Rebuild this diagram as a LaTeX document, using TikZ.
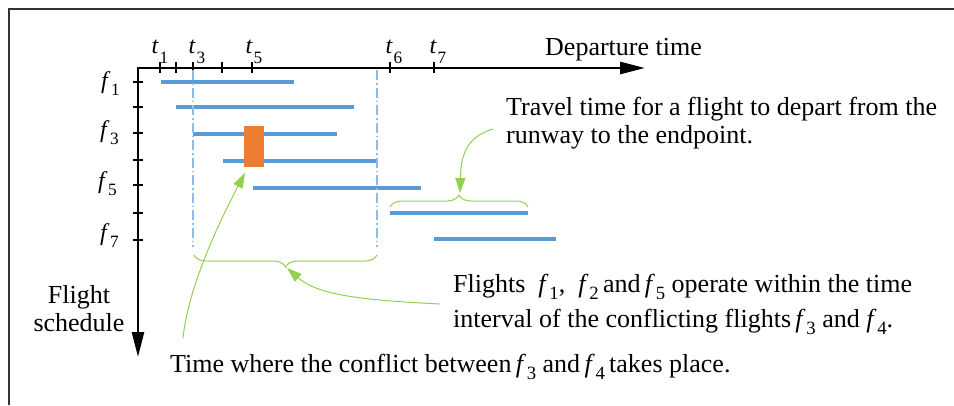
\documentclass[tikz,border=0pt]{standalone}
\usepackage{fontspec}
\setmainfont{Liberation Serif}
\usepackage{graphicx}
\usetikzlibrary{arrows.meta,decorations.pathreplacing}
\definecolor{barblue}{HTML}{5B9BD5}
\definecolor{dashblue}{HTML}{8FBCE6}
\definecolor{conforange}{HTML}{ED7D31}
\definecolor{annogreen}{HTML}{92D050}
\definecolor{framegray}{HTML}{333333}
\newcommand{\ix}[3][0.28em]{\textit{#2}\kern0.03em\raisebox{-#1}{\scalebox{0.72}{#3}}}
\begin{document}
\begin{tikzpicture}[x=1pt,y=-1pt,
  big/.style={font=\fontsize{26}{28}\selectfont, inner sep=0pt},
  tlab/.style={font=\fontsize{24}{26}\selectfont, inner sep=0pt, anchor=base},
  flab/.style={font=\fontsize{24}{26}\selectfont, inner sep=0pt, anchor=base east},
  axisline/.style={line width=2.6pt, {Triangle[length=25pt,width=12pt]}-{Triangle[length=25pt,width=12pt]}},
  tickmark/.style={line width=1.2pt},
  bar/.style={barblue, line width=4pt},
  guide/.style={dashblue, line width=1.3pt, dash pattern=on 10pt off 3pt on 1.5pt off 3pt},
  anno/.style={annogreen, line width=1pt},
  annoarrow/.style={anno, -{Triangle[length=15pt,width=10pt]}},
  bracestyle/.style={anno, decorate, decoration={brace, amplitude=12pt}}
]
\useasboundingbox (0,0) rectangle (954,405);
% frame
\draw[framegray, line width=1.3pt] (9,405) -- (9,9) -- (954,9);

% axes
\coordinate (O) at (138,68);
\coordinate (xend) at (645,68);
\coordinate (yend) at (138,357);
\draw[axisline] (yend) -- (O) -- (xend);

% ticks on time axis
\foreach \tx in {160,176,193,222,252,390,434}
  \draw[tickmark] (\tx,62) -- (\tx,73);
% ticks on flight axis
\foreach \ty in {82,107,133,160,185,213,240}
  \draw[tickmark] (133,\ty) -- (143,\ty);

% time labels
\node[tlab] (t1) at (160,53) {\ix[0.42em]{t}{1}};
\node[tlab] (t3) at (197,53) {\ix[0.42em]{t}{3}};
\node[tlab] (t5) at (254,53) {\ix[0.42em]{t}{5}};
\node[tlab] (t6) at (394,53) {\ix[0.42em]{t}{6}};
\node[tlab] (t7) at (438,53) {\ix[0.42em]{t}{7}};
\node[big, anchor=base west] (dep) at (545,55) {Departure time};

% flight labels
\node[flab] (f1) at (120,88) {\ix[0.33em]{f}{1}};
\node[flab] (f3) at (119,137) {\ix[0.33em]{f}{3}};
\node[flab] (f5) at (117,188) {\ix[0.33em]{f}{5}};
\node[flab] (f7) at (119,240) {\ix[0.33em]{f}{7}};
\node[big, anchor=base] (fs1) at (79,303) {Flight};
\node[big, anchor=base] (fs2) at (79,331) {schedule};

% flight bars
\draw[bar] (161,82) -- (294,82);
\draw[bar] (176,107) -- (354,107);
\draw[bar] (193,134) -- (337,134);
\draw[bar] (223,161) -- (377,161);
\draw[bar] (253,188) -- (421,188);
\draw[bar] (390,213) -- (528,213);
\draw[bar] (434,239) -- (556,239);

% conflict
\fill[conforange] (244,126) rectangle (264,167);

% interval guides
\draw[guide] (193,70) -- (193,247);
\draw[guide] (377,70) -- (377,247);

% braces
\draw[bracestyle] (390,207) -- (528,207);
\coordinate (btop) at (460,193);
\draw[bracestyle] (377,255) -- (194,255);
\coordinate (bbot) at (287,268);

% annotations
\node[big, anchor=base west] (tr1) at (506,115) {Travel time for a flight to depart from the};
\node[big, anchor=base west] (tr2) at (506,143) {runway to the endpoint.};
\node[big, anchor=base west] (fl1) at (453,292) {Flights\ \ \ix{f}{1},\ \ \ix{f}{2}\,and\,\ix{f}{5} operate within the time};
\node[big, anchor=base west] (fl2) at (453,327) {interval of the conflicting flights\,\ix{f}{3} and \ix{f}{4}.};
\node[big, anchor=base west] (tm) at (170,372) {Time where the conflict between\,\ix{f}{3} and\,\ix{f}{4}\,takes place.};

\coordinate (trstart) at (493,129);
\coordinate (flstart) at (440,304);
\coordinate (tmstart) at (183,338);
\coordinate (conf) at (245,173);

\draw[annoarrow] (trstart) .. controls (470,136) and (461,150) .. (btop);
\draw[annoarrow] (flstart) .. controls (360,300) and (318,295) .. (bbot);
\draw[annoarrow] (tmstart) .. controls (188,290) and (215,230) .. (conf);
\end{tikzpicture}
\end{document}
